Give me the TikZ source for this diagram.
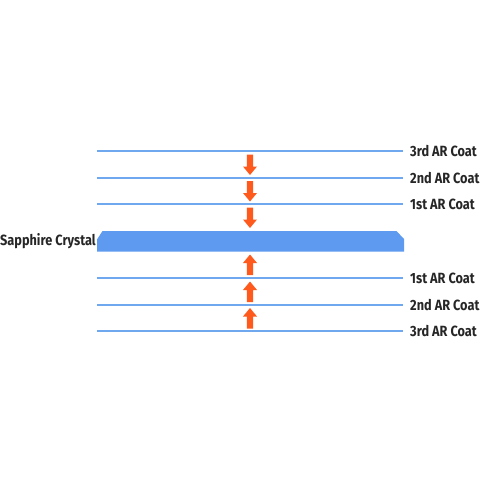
\documentclass[tikz,border=0pt]{standalone}
\usepackage{fontspec}
\setmainfont{Fira Sans}[FakeStretch=0.86]
\definecolor{coatblue}{HTML}{6FA8EE}
\definecolor{crystal}{HTML}{5E9BF0}
\definecolor{arrow}{HTML}{FF5A1E}
\begin{document}
\begin{tikzpicture}[x=1pt,y=-1pt,
  coat/.style={draw=coatblue,line width=1.4pt},
  lab/.style={anchor=west,inner sep=0pt,font=\bfseries\fontsize{14.8}{16}\selectfont,text=black!85},
  downarr/.pic={\fill[arrow] (-3.2,0) -- (3.2,0) -- (3.2,12) -- (7,12) -- (0,20.5) -- (-7,12) -- (-3.2,12) -- cycle;},
  uparr/.pic={\fill[arrow] (-3.2,0) -- (3.2,0) -- (3.2,-12) -- (7,-12) -- (0,-20.5) -- (-7,-12) -- (-3.2,-12) -- cycle;}]
\useasboundingbox (0,0) rectangle (480,480);
% coats
\foreach \y/\t/\n in {151/3rd/a,178/2nd/b,204/1st/c,278/1st/d,305/2nd/e,331/3rd/f}{
  \coordinate (l\n) at (97,\y);
  \coordinate (r\n) at (403,\y);
  \draw[coat] (l\n) -- (r\n);
  \node[lab] (t\n) at (410,\y) {\t\ AR Coat};
}
% crystal
\fill[crystal] (97,239.5) -- (102.5,231) -- (396.5,231) -- (404,239) -- (404,251.5) -- (97,251.5) -- cycle;
\node[lab] (sc) at (0,241) {Sapphire Crystal};
% arrows
\pic at (250,154.5) {downarr};
\pic at (250,181) {downarr};
\pic at (250,207.5) {downarr};
\pic at (250,275) {uparr};
\pic at (250,302) {uparr};
\pic at (250,328.5) {uparr};
\end{tikzpicture}
\end{document}
